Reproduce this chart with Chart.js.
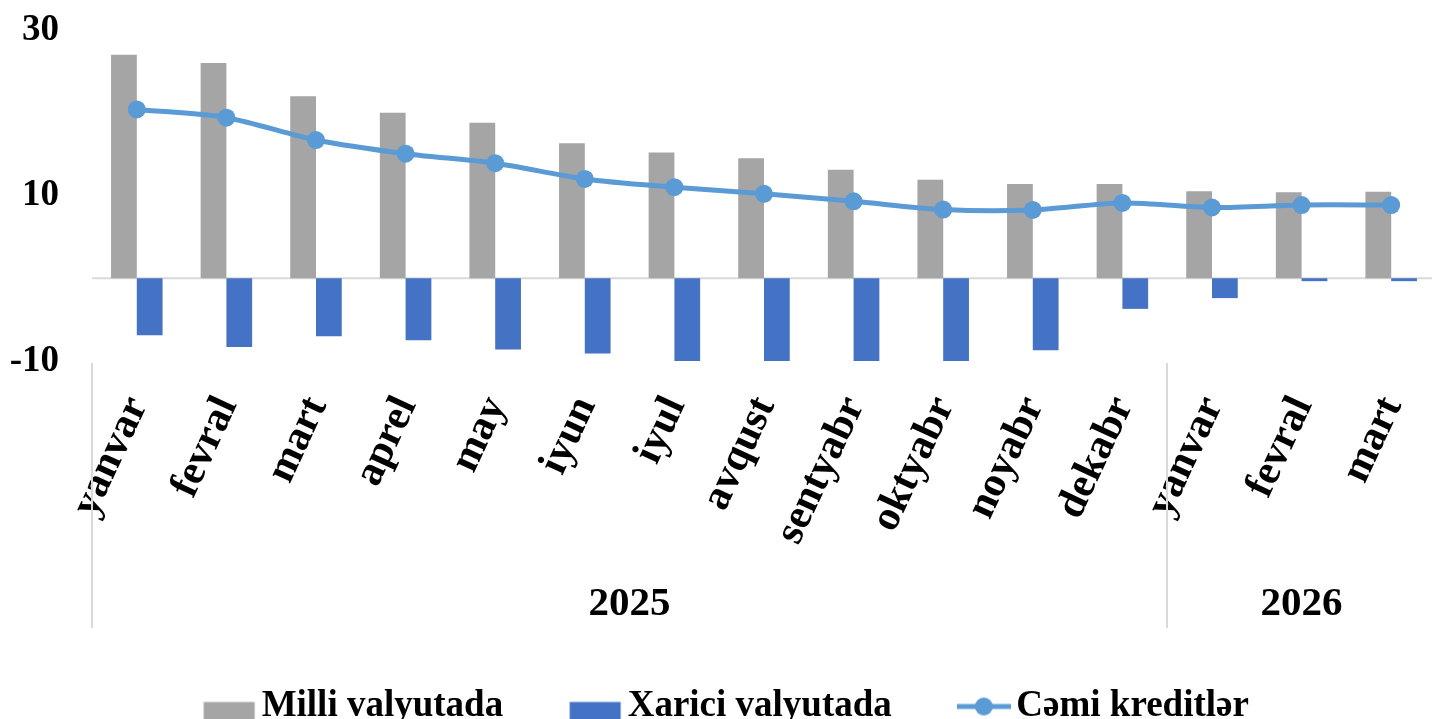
<!DOCTYPE html>
<html><head><meta charset="utf-8">
<script src="https://cdn.jsdelivr.net/npm/chart.js@4.4.1/dist/chart.umd.min.js"></script>
<style>
html,body{margin:0;padding:0;background:#fff;overflow:hidden;}
#wrap{position:relative;width:1464px;height:735px;}
</style></head><body>
<div id="wrap"><canvas id="c"></canvas></div>
<script>
const categories = ['yanvar','fevral','mart','aprel','may','iyun','iyul','avqust','sentyabr','oktyabr','noyabr','dekabr','yanvar','fevral','mart'];
const years = ['2025','2026'];
const yearSpans = [12, 3];
const milliValues = [27.0,26.0,22.0,20.0,18.8,16.3,15.2,14.5,13.1,11.9,11.4,11.4,10.5,10.4,10.45];
const xariciValues = [-6.9,-8.3,-7.0,-7.5,-8.6,-9.1,-10.1,-10.4,-10.3,-10.3,-8.7,-3.7,-2.4,-0.35,-0.35];
const cemiValues = [20.4,19.4,16.7,15.05,13.9,12.0,11.0,10.2,9.3,8.3,8.25,9.1,8.55,8.85,8.85];
const yMin = -10, yMax = 30, yStep = 20;
const seriesNames = ['Milli valyutada','Xarici valyutada','Cəmi kreditlər'];
const colors = ['#A5A5A5','#4472C4','#5B9BD5'];

const FONT = 'Liberation Serif';

function makeIcon(kind, color){
  const c = document.createElement('canvas');
  c.width = 54; c.height = 40;
  const g = c.getContext('2d');
  if (kind === 'rect') {
    g.fillStyle = color;
    g.fillRect(1.5, 15.5, 51, 22);
  } else {
    g.strokeStyle = color; g.lineWidth = 5;
    g.beginPath(); g.moveTo(0, 20); g.lineTo(54, 20); g.stroke();
    g.fillStyle = color;
    g.beginPath(); g.arc(27, 20, 9, 0, Math.PI*2); g.fill();
  }
  return c;
}
const icons = [makeIcon('rect', colors[0]), makeIcon('rect', colors[1]), makeIcon('line', colors[2])];

const groupPlugin = {
  id: 'groups',
  beforeDatasetsDraw(chart){
    const {ctx, chartArea} = chart;
    const y0 = chart.scales.y.getPixelForValue(0);
    ctx.save();
    ctx.strokeStyle = '#D9D9D9'; ctx.lineWidth = 2;
    ctx.beginPath(); ctx.moveTo(chartArea.left, y0); ctx.lineTo(chartArea.right, y0); ctx.stroke();
    ctx.restore();
  },
  afterDraw(chart){
    const {ctx, chartArea} = chart;
    const xs = chart.scales.x;
    const step = xs.getPixelForTick(1) - xs.getPixelForTick(0);
    const edge = i => xs.getPixelForTick(0) - step/2 + i*step;
    ctx.save();
    ctx.strokeStyle = '#D9D9D9'; ctx.lineWidth = 2;
    let start = 0;
    const edges = [0];
    yearSpans.forEach(s => { start += s; edges.push(start); });
    const top = chartArea.bottom + 2, bot = chartArea.bottom + 267;
    edges.forEach(i => { const x = Math.round(edge(i)); ctx.beginPath(); ctx.moveTo(x, top); ctx.lineTo(x, bot); ctx.stroke(); });
    ctx.fillStyle = '#000';
    ctx.font = 'bold 41px "' + FONT + '"';
    ctx.textAlign = 'center'; ctx.textBaseline = 'middle';
    for (let k = 0; k < years.length; k++) {
      const cx = (edge(edges[k]) + edge(edges[k+1])) / 2;
      ctx.fillText(years[k], cx, chartArea.bottom + 243);
    }
    ctx.restore();
  }
};

new Chart(document.getElementById('c'), {
  data: {
    labels: categories,
    datasets: [
      { type:'bar', label: seriesNames[0], data: milliValues, backgroundColor: colors[0], barPercentage: 1, categoryPercentage: 0.575, order: 1 },
      { type:'bar', label: seriesNames[1], data: xariciValues, backgroundColor: colors[1], barPercentage: 1, categoryPercentage: 0.575, order: 1 },
      { type:'line', label: seriesNames[2], data: cemiValues, borderColor: colors[2], backgroundColor: colors[2], borderWidth: 5, pointRadius: 9, pointHoverRadius: 9, pointBackgroundColor: colors[2], pointBorderWidth: 0, tension: 0.3, order: 0 }
    ]
  },
  options: {
    responsive: true, maintainAspectRatio: false, animation: false,
    layout: { padding: { top: 30, left: 0, right: 0, bottom: 0 } },
    plugins: {
      tooltip: { enabled: false },
      legend: {
        position: 'bottom',
        labels: {
          usePointStyle: true, pointStyleWidth: 28, padding: 78,
          color: '#000', font: { family: FONT, size: 37, weight: 'bold' },
          generateLabels: chart => chart.data.datasets.map((ds, i) => ({ text: ds.label, pointStyle: icons[i], datasetIndex: i, hidden: false, lineWidth: 0, fillStyle: colors[i], strokeStyle: colors[i] }))
        }
      }
    },
    scales: {
      x: {
        grid: { display: false, drawTicks: false }, border: { display: false },
        ticks: { autoSkip: false, minRotation: 65, maxRotation: 65, padding: 28, labelOffset: 1, color: '#000', font: { family: FONT, size: 42, weight: 'bold' } },
        afterFit: s => { s.height = 249; s.paddingLeft = 0; s.paddingRight = 28; s.paddingTop = 0; s.paddingBottom = 0; }
      },
      y: {
        min: yMin, max: yMax,
        grid: { display: false, drawTicks: false }, border: { display: false },
        ticks: { stepSize: yStep, padding: 33, color: '#000', font: { family: FONT, size: 37, weight: 'bold' } },
        afterFit: s => { s.width = 92; s.paddingTop = 0; s.paddingBottom = 0; s.paddingLeft = 0; s.paddingRight = 0; }
      }
    }
  },
  plugins: [groupPlugin]
});
</script>
</body></html>
